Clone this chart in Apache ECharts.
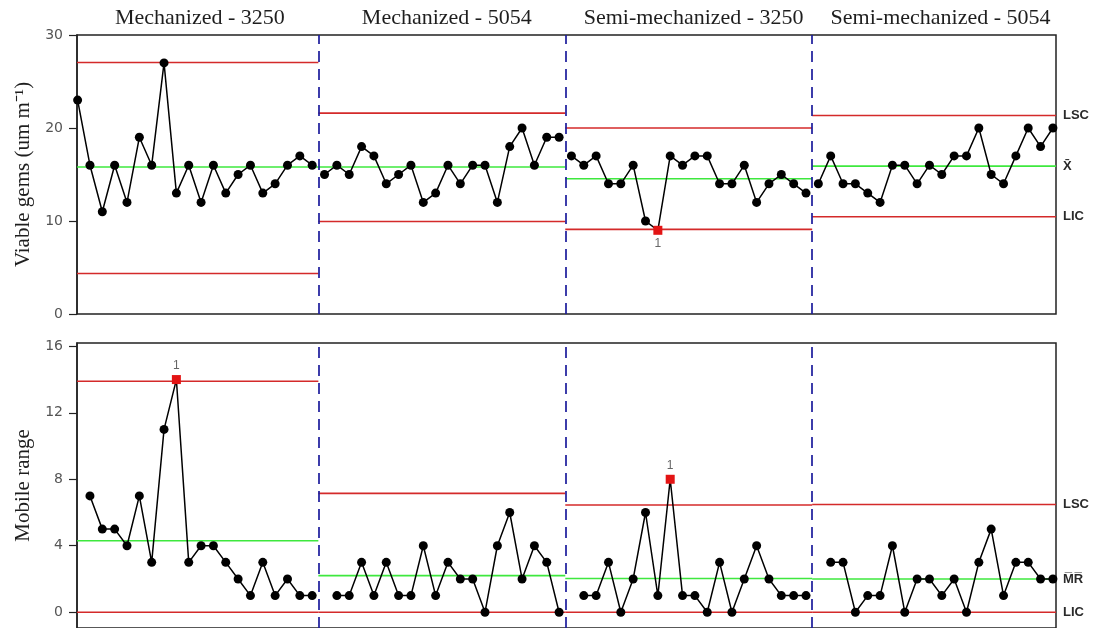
<!DOCTYPE html>
<html><head><meta charset="utf-8">
<script src="https://cdn.jsdelivr.net/npm/echarts@6/dist/echarts.min.js"></script>
<style>html,body{margin:0;padding:0;background:#fff}#c{width:1104px;height:628px}</style>
</head><body><div id="c"></div>
<script>
// ---- data ----
const stageNames = ['Mechanized - 3250', 'Mechanized - 5054', 'Semi-mechanized - 3250', 'Semi-mechanized - 5054'];

const gemsMech3250 = [23,16,11,16,12,19,16,27,13,16,12,16,13,15,16,13,14,16,17,16];
const gemsMech5054 = [15,16,15,18,17,14,15,16,12,13,16,14,16,16,12,18,20,16,19,19];
const gemsSemi3250 = [17,16,17,14,14,16,10,9,17,16,17,17,14,14,16,12,14,15,14,13];
const gemsSemi5054 = [14,17,14,14,13,12,16,16,14,16,15,17,17,20,15,14,17,20,18,20];

const mrMech3250 = [7,5,5,4,7,3,11,14,3,4,4,3,2,1,3,1,2,1,1];
const mrMech5054 = [1,1,3,1,3,1,1,4,1,3,2,2,0,4,6,2,4,3,0];
const mrSemi3250 = [1,1,3,0,2,6,1,8,1,1,0,3,0,2,4,2,1,1,1];
const mrSemi5054 = [3,3,0,1,1,4,0,2,2,1,2,0,3,5,1,3,3,2,2];

const gemsUCL = [27.05, 21.6, 20.0, 21.35];
const gemsCL  = [15.8, 15.8, 14.55, 15.9];
const gemsLCL = [4.35, 9.95, 9.1, 10.45];

const mrUCL = [13.9, 7.15, 6.45, 6.48];
const mrCL  = [4.3, 2.2, 2.03, 2.0];
const mrLCL = [0, 0, 0, 0];

const gemsFlags = [[2, 7]];          // [stage, index] of flagged points
const mrFlags   = [[0, 7], [2, 7]];

const gemsTicks = [0, 10, 20, 30];
const mrTicks   = [0, 4, 8, 12, 16];

const gemsLimitLabels = ['LSC', 'X\u0304', 'LIC'];
const mrLimitLabels   = ['LSC', 'M\u0305R\u0305', 'LIC'];

const yNames = ['Viable gems (um m\u207B\u00B9)', 'Mobile range'];

// ---- build ----
const gemsStages = [gemsMech3250, gemsMech5054, gemsSemi3250, gemsSemi5054];
const mrStages = [mrMech3250, mrMech5054, mrSemi3250, mrSemi5054];
const N = 20;
const X_MIN = 0.95, X_MAX = 80.25;
const RED = '#d42a2a', GREEN = '#3ee83e', BLUE = '#1c1c9c';

const series = [];

function addStagePoints(g, values, offset, s, flags, flagPos) {
  const data = values.map((v, j) => {
    const x = s * N + j + 1 + offset;
    const flagged = flags.some(f => f[0] === s && f[1] === j);
    if (!flagged) return [x, v];
    return {
      value: [x, v], symbol: 'rect', symbolSize: 9,
      itemStyle: { color: '#e31414' },
      label: { show: true, formatter: '1', position: flagPos, distance: 3,
               color: '#666', fontSize: 12, fontFamily: 'Liberation Sans' }
    };
  });
  series.push({
    type: 'line', xAxisIndex: g, yAxisIndex: g, data,
    symbol: 'circle', symbolSize: 9, showSymbol: true,
    itemStyle: { color: '#000' }, lineStyle: { color: '#000', width: 1.5 },
    z: 6, animation: false, silent: true
  });
}

function addLimit(g, s, val, color, endText) {
  const x0 = Math.max(X_MIN, s * N + 0.5);
  const x1 = Math.min(X_MAX, s * N + N + 0.5);
  const ser = {
    type: 'line', xAxisIndex: g, yAxisIndex: g,
    data: [[x0, val], [x1, val]], symbol: 'none',
    lineStyle: { color, width: 1.6 }, z: 3, animation: false, silent: true
  };
  if (endText) {
    ser.endLabel = { show: true, formatter: endText, distance: 7, color: '#2a2a2a',
      fontWeight: 'bold', fontSize: 13, fontFamily: 'Liberation Sans' };
  }
  series.push(ser);
}

for (let s = 0; s < 4; s++) {
  const last = s === 3;
  addLimit(0, s, gemsUCL[s], RED, last ? gemsLimitLabels[0] : null);
  addLimit(0, s, gemsCL[s], GREEN, last ? gemsLimitLabels[1] : null);
  addLimit(0, s, gemsLCL[s], RED, last ? gemsLimitLabels[2] : null);
  addLimit(1, s, mrUCL[s], RED, last ? mrLimitLabels[0] : null);
  addLimit(1, s, mrCL[s], GREEN, last ? mrLimitLabels[1] : null);
  addLimit(1, s, mrLCL[s], RED, last ? mrLimitLabels[2] : null);
  addStagePoints(0, gemsStages[s], 0, s, gemsFlags, 'bottom');
  addStagePoints(1, mrStages[s], 1, s, mrFlags, 'top');
}

// stage boundaries (dashed blue)
const bounds = [1, 2, 3].map(k => ({ xAxis: k * N + 0.5 }));
[0, 1].forEach(g => {
  series.push({
    type: 'line', xAxisIndex: g, yAxisIndex: g, data: [], z: 4, animation: false, silent: true,
    markLine: { silent: true, symbol: 'none', label: { show: false }, animation: false,
      lineStyle: { color: BLUE, type: [11, 7], width: 1.7 }, data: bounds }
  });
});

const titleXs = stageNames.map((_, s) => s * N + 10.9);

function yAxisBase(g, extra) {
  return Object.assign({
    type: 'value', gridIndex: g,
    name: yNames[g], nameLocation: 'middle', nameRotate: 90, nameGap: 42,
    nameTextStyle: { fontFamily: 'Liberation Serif', fontSize: 21, color: '#1e1e1e' },
    axisLine: { show: true, lineStyle: { color: '#222', width: 1.5 } },
    axisTick: { show: true, inside: false, length: 8, lineStyle: { color: '#222', width: 1.2 } },
    axisLabel: { color: '#555', fontSize: 14, fontFamily: 'DejaVu Sans', margin: 14 },
    splitLine: { show: false }
  }, extra);
}

const option = {
  backgroundColor: '#fff',
  animation: false,
  grid: [
    { left: 77, right: 48, top: 35, height: 279, show: true, borderColor: '#222', borderWidth: 1.5, backgroundColor: 'transparent' },
    { left: 77, right: 48, top: 343, height: 286, show: true, borderColor: '#222', borderWidth: 1.5, backgroundColor: 'transparent' }
  ],
  xAxis: [
    { type: 'value', gridIndex: 0, min: X_MIN, max: X_MAX, axisLine: { show: false }, axisTick: { show: false }, axisLabel: { show: false }, splitLine: { show: false } },
    { type: 'value', gridIndex: 1, min: X_MIN, max: X_MAX, axisLine: { show: false }, axisTick: { show: false }, axisLabel: { show: false }, splitLine: { show: false } },
    { type: 'value', gridIndex: 0, position: 'top', min: X_MIN, max: X_MAX,
      axisLine: { show: false }, axisTick: { show: false }, splitLine: { show: false },
      axisLabel: { show: true, customValues: titleXs, margin: 6,
        fontFamily: 'Liberation Serif', fontSize: 22, color: '#1e1e1e',
        formatter: v => stageNames[Math.round((v - 10.9) / N)] } }
  ],
  yAxis: [
    yAxisBase(0, { min: 0, max: 30, interval: 10 }),
    yAxisBase(1, { min: -0.95, max: 16.2,
      axisLabel: { color: '#555', fontSize: 14, fontFamily: 'DejaVu Sans', margin: 14, customValues: mrTicks },
      axisTick: { show: true, length: 8, lineStyle: { color: '#222', width: 1.2 }, customValues: mrTicks } })
  ],
  series
};

const chart = echarts.init(document.getElementById('c'), null, { renderer: 'canvas' });
chart.setOption(option);
</script>
</body></html>
